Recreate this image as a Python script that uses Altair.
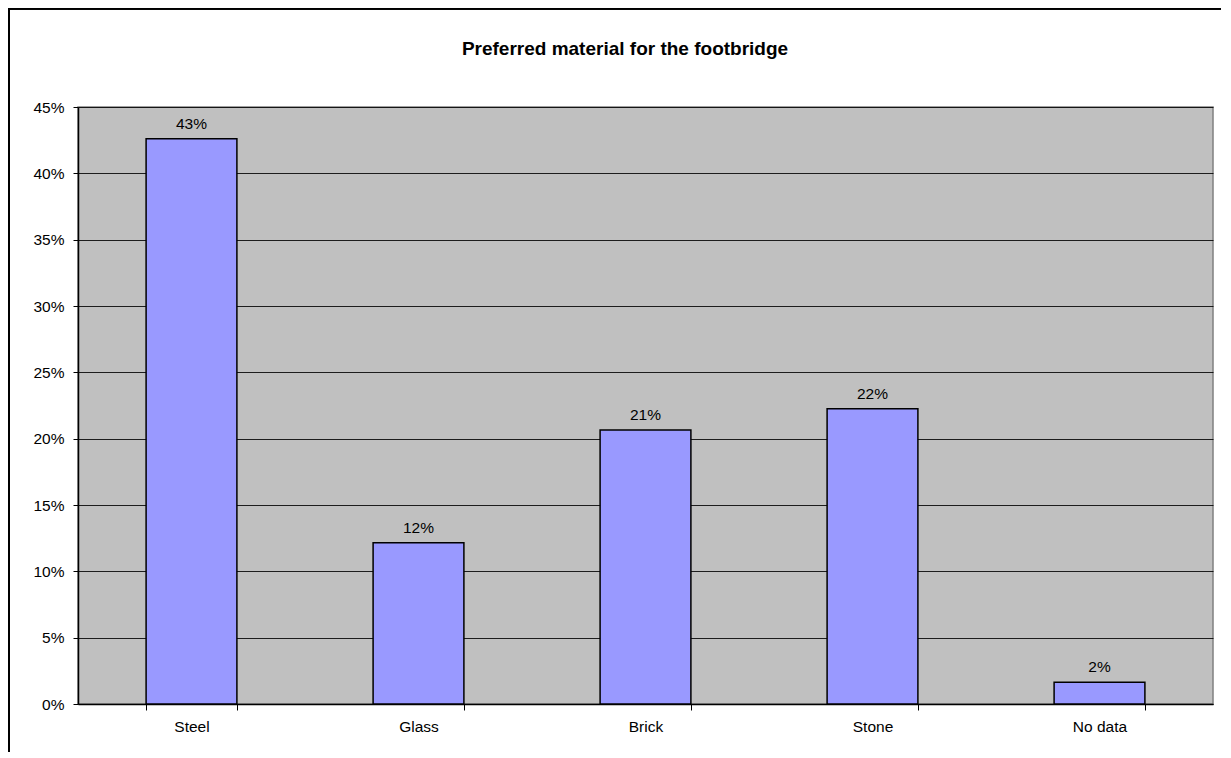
import altair as alt
import pandas as pd

categories = ["Steel", "Glass", "Brick", "Stone", "No data"]
shares = [0.426, 0.1216, 0.2065, 0.2226, 0.0164]
chart_title = "Preferred material for the footbridge"

df = pd.DataFrame({"material": categories, "share": shares})

W, H = 1135, 597
PL, PT, PR, PB = 70, 99, 8, 48
FONT = "Liberation Sans"
FS = 15.5

x = alt.X("material:N", sort=categories, title=None,
          scale=alt.Scale(paddingInner=0.6, paddingOuter=0.3),
          axis=alt.Axis(labelAngle=0, labelFontSize=FS, labelFont=FONT, labelColor="#000",
                        tickBand="extent", tickSize=6, tickColor="#000", domainColor="#000",
                        domainWidth=1.5, labelPadding=9, grid=False))
y = alt.Y("share:Q", title=None,
          scale=alt.Scale(domain=[0, 0.45], nice=False),
          axis=alt.Axis(format=".0%", values=[i * 0.05 for i in range(10)],
                        labelFontSize=FS, labelFont=FONT, labelColor="#000",
                        tickSize=5, tickColor="#000", domainColor="#000", domainWidth=1.5,
                        labelPadding=9, grid=True, gridColor="#000", gridWidth=1, gridOpacity=0.85))

bars = alt.Chart(df).mark_bar(color="#9999FF", stroke="#000", strokeWidth=1.5).encode(x=x, y=y)
labels = alt.Chart(df).mark_text(baseline="alphabetic", dy=-10, fontSize=FS, font=FONT,
                                 color="#000").encode(
    x=alt.X("material:N", sort=categories),
    y="share:Q",
    text=alt.Text("share:Q", format=".0%"))

title_df = pd.DataFrame({"t": [chart_title]})
title = alt.Chart(title_df).mark_text(fontSize=19, font=FONT, fontWeight="bold", color="#000",
                                      baseline="alphabetic", align="center").encode(
    x=alt.value(547), y=alt.value(-52), text="t:N")

border_left = alt.Chart(df).mark_rule(color="#000", strokeWidth=2).encode(
    x=alt.value(-PL + 1), y=alt.value(-PT), y2=alt.value(H + PB))
border_top = alt.Chart(df).mark_rule(color="#000", strokeWidth=3).encode(
    y=alt.value(-PT), x=alt.value(-PL), x2=alt.value(W + PR))

chart = alt.layer(bars, labels, title, border_left, border_top).properties(
    width=W, height=H,
    background="#FFFFFF",
    autosize=alt.AutoSizeParams(type="none"),
    padding={"left": PL, "top": PT, "right": PR, "bottom": PB},
).configure_view(fill="#C0C0C0", stroke="#808080", strokeWidth=1.5)

chart.save("out.html", embed_options={"renderer": "svg", "actions": False})
